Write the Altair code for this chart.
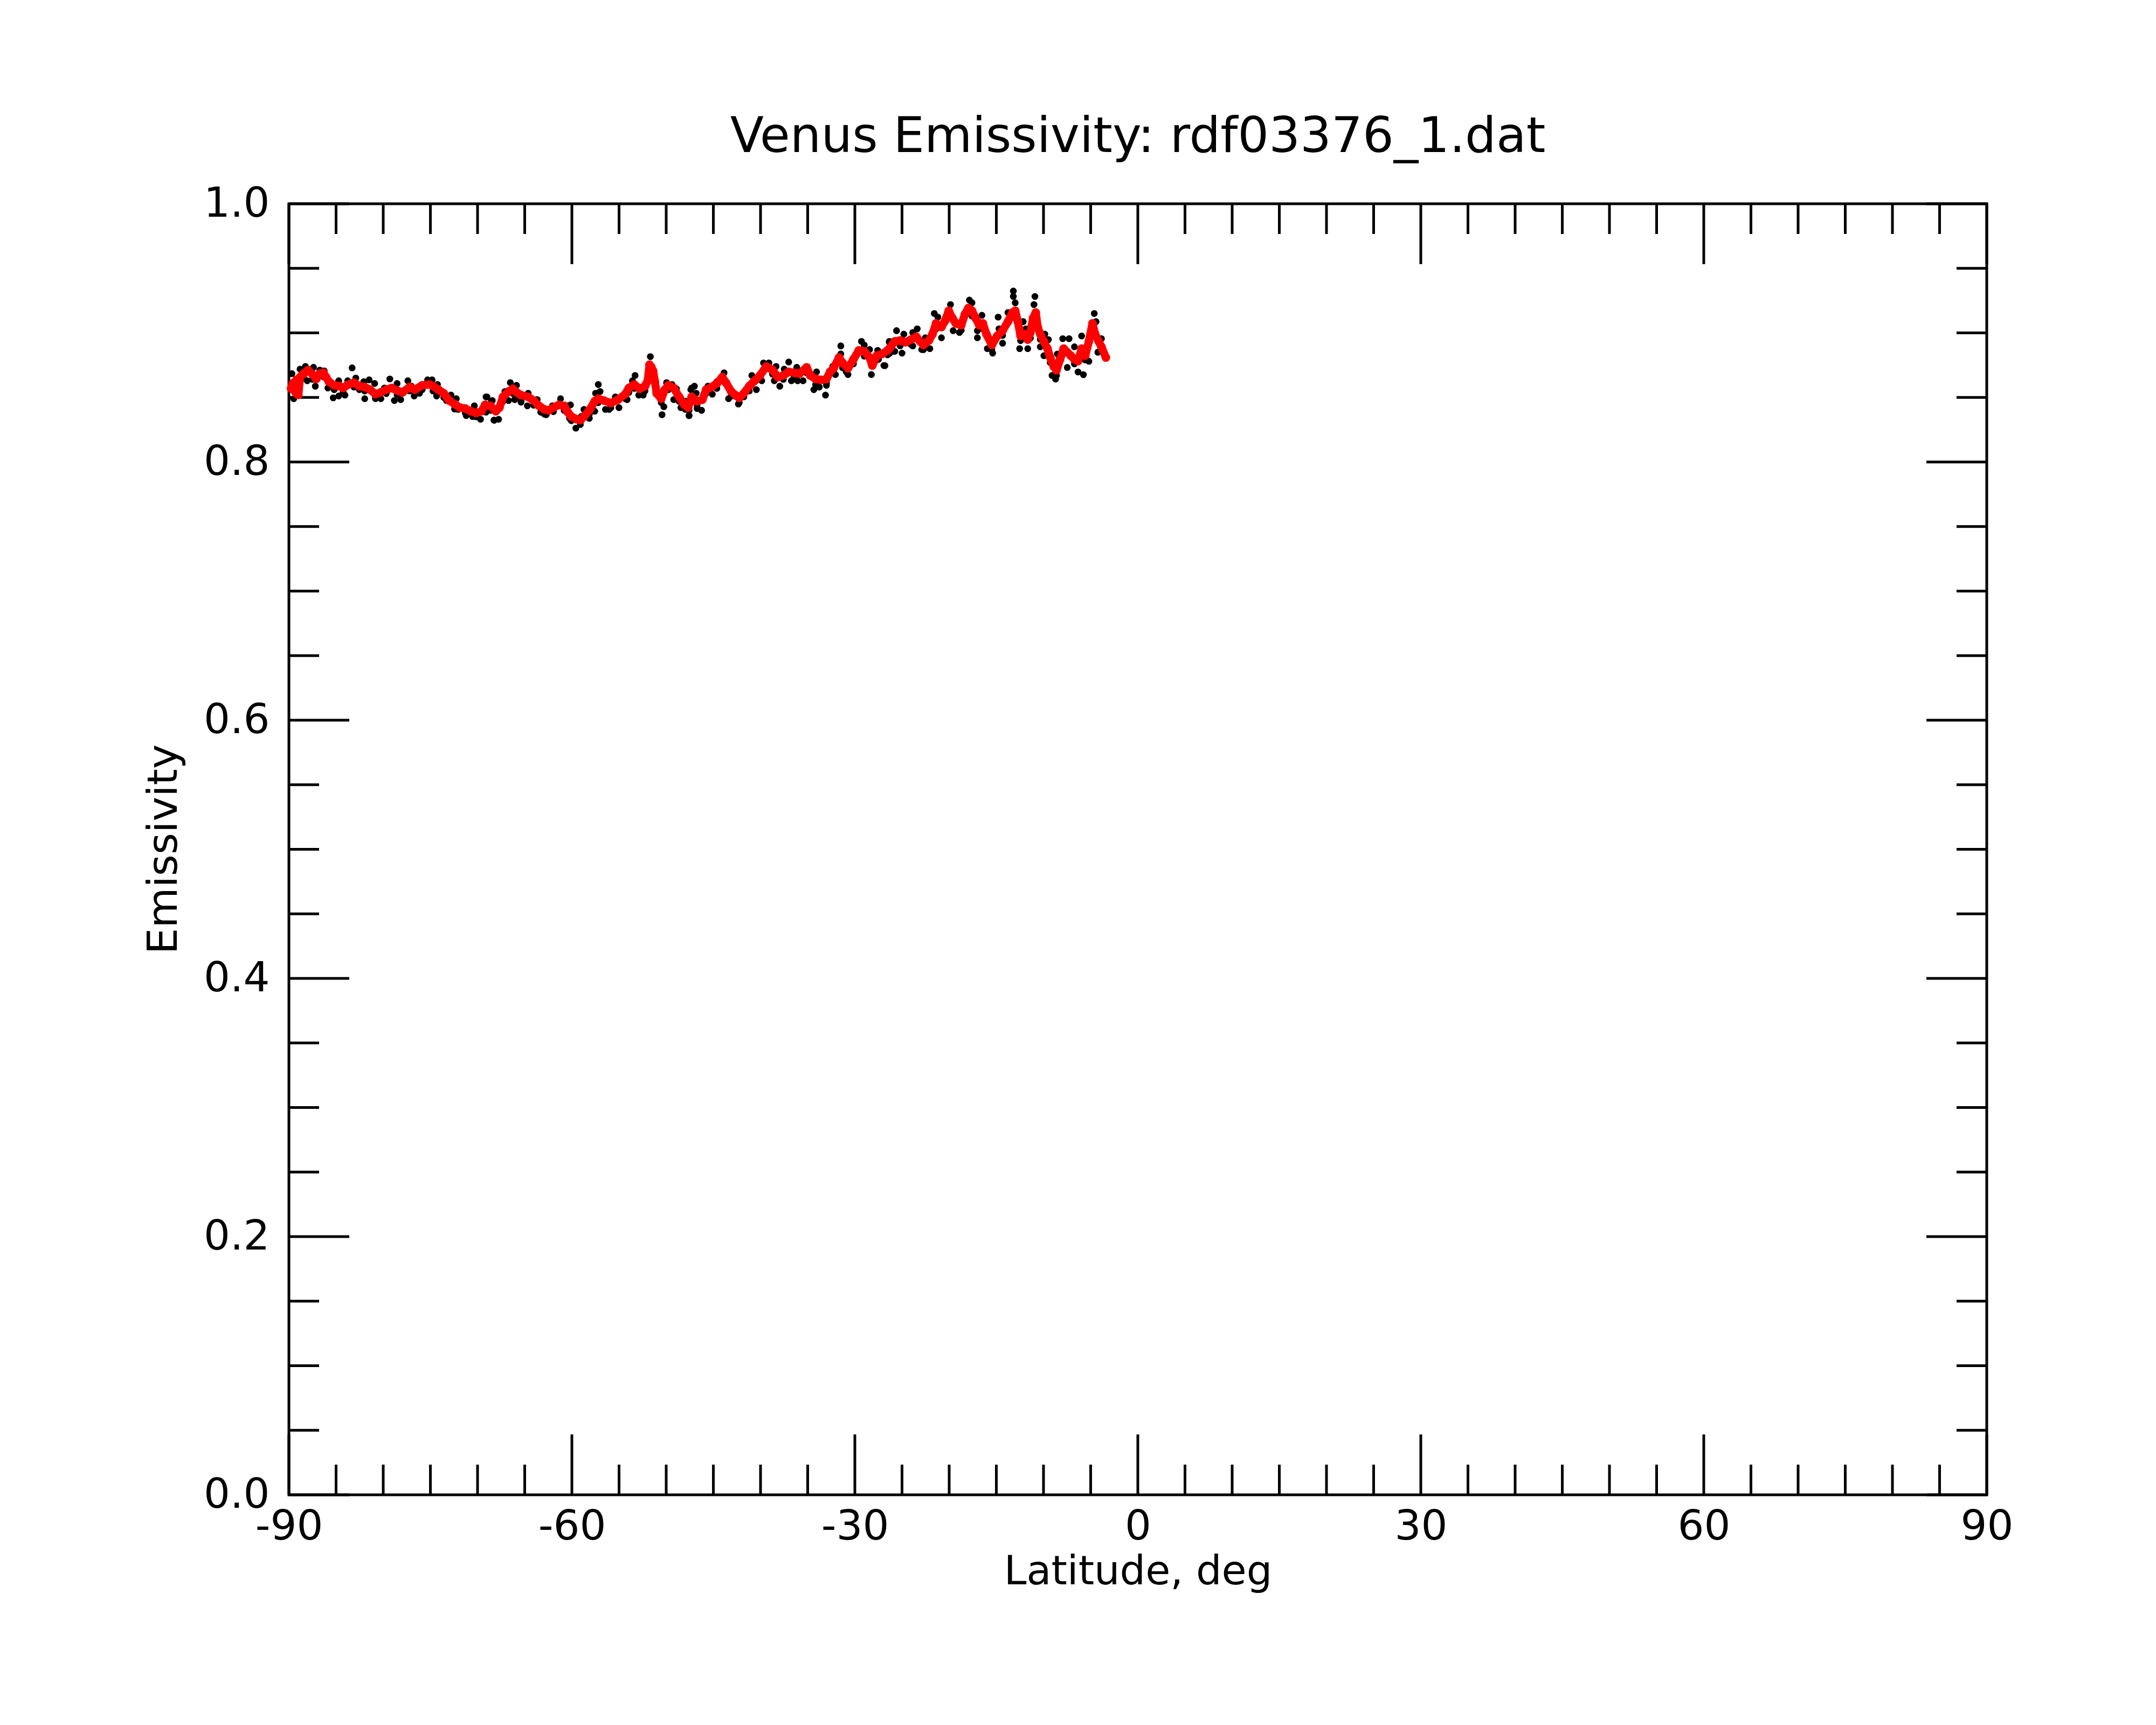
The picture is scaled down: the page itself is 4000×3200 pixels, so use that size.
import altair as alt
import pandas as pd

# ---------------- data ----------------
red_lat = [-89.77, -89.58, -89.40, -89.20, -89.00, -89.20, -88.82, -88.44, -87.96, -87.49,
           -87.10, -86.72, -86.34, -86.06, -85.77, -85.20, -84.63, -84.25, -83.68, -83.10,
           -82.53, -81.96, -81.39, -80.82, -80.25, -79.68, -79.10, -78.53, -77.96, -77.20,
           -76.63, -75.87, -75.10, -74.72, -74.15, -73.58, -73.01, -72.44, -71.87, -71.30,
           -70.72, -70.15, -69.58, -69.20, -68.63, -68.06, -67.68, -67.30, -66.72, -66.25,
           -65.87, -65.39, -64.63, -64.06, -63.49, -62.91, -62.44, -61.96, -61.39, -60.82,
           -60.44, -60.06, -59.49, -59.10, -58.72, -58.15, -57.58, -57.20, -56.63, -55.87,
           -55.10, -54.34, -53.96, -53.39, -52.82, -52.25, -51.96, -51.77, -51.58, -51.39,
           -51.20, -51.01, -50.53, -50.15, -49.77, -49.20, -48.63, -48.06, -47.68, -47.30,
           -46.73, -46.16, -45.77, -45.20, -44.63, -44.06, -43.68, -43.11, -42.54, -42.25,
           -41.77, -41.20, -40.63, -40.06, -39.39, -38.73, -38.16, -37.58, -37.01, -36.44,
           -35.87, -35.11, -34.73, -34.16, -33.58, -33.01, -32.63, -32.25, -31.68, -31.30,
           -30.73, -30.15, -29.58, -29.01, -28.44, -28.15, -27.68, -27.11, -26.53, -26.34,
           -25.77, -25.20, -24.62, -24.05, -23.48, -23.10, -22.72, -22.15, -21.77, -21.39,
           -20.82, -20.43, -20.05, -19.67, -19.29, -18.72, -18.34, -17.96, -17.58, -17.20,
           -16.81, -16.43, -16.05, -15.48, -14.91, -14.34, -13.77, -13.29, -13.00, -12.72,
           -12.43, -12.05, -11.67, -11.39, -11.10, -10.82, -10.62, -10.34, -9.96, -9.58,
           -9.29, -8.91, -8.62, -8.24, -7.86, -7.48, -7.10, -6.72, -6.34, -5.96,
           -5.58, -5.19, -4.81, -4.53, -4.15, -3.86, -3.39]
red_val = [0.857, 0.861, 0.855, 0.853, 0.852, 0.8635, 0.8657, 0.8684, 0.8712, 0.8677,
           0.8643, 0.8684, 0.8691, 0.8657, 0.8622, 0.8594, 0.8587, 0.8573, 0.8600, 0.8615,
           0.8587, 0.8580, 0.8560, 0.8525, 0.8539, 0.8560, 0.8573, 0.8553, 0.8539, 0.8580,
           0.8560, 0.8594, 0.8600, 0.8587, 0.8560, 0.8532, 0.8476, 0.8449, 0.8421, 0.8414,
           0.8393, 0.8380, 0.8393, 0.8442, 0.8435, 0.8393, 0.8421, 0.8504, 0.8546, 0.8567,
           0.8539, 0.8518, 0.8504, 0.8476, 0.8435, 0.8407, 0.8400, 0.8421, 0.8442, 0.8435,
           0.8386, 0.8352, 0.8331, 0.8324, 0.8352, 0.8400, 0.8470, 0.8490, 0.8476, 0.8456,
           0.8483, 0.8525, 0.8573, 0.8600, 0.8567, 0.8587, 0.8629, 0.8753, 0.8735, 0.8705,
           0.8622, 0.8532, 0.8490, 0.8560, 0.8594, 0.8573, 0.8504, 0.8442, 0.8421, 0.8504,
           0.8470, 0.8483, 0.8560, 0.8580, 0.8608, 0.8657, 0.8615, 0.8546, 0.8511, 0.8497,
           0.8532, 0.8587, 0.8629, 0.8670, 0.8740, 0.8712, 0.8657, 0.8670, 0.8698, 0.8691,
           0.8684, 0.8733, 0.8670, 0.8643, 0.8636, 0.8643, 0.8698, 0.8726, 0.8809, 0.8767,
           0.8726, 0.8795, 0.8864, 0.8857, 0.8809, 0.8747, 0.8823, 0.8837, 0.8864, 0.8878,
           0.8934, 0.8941, 0.8927, 0.8948, 0.8969, 0.8934, 0.8906, 0.8941, 0.8990, 0.9073,
           0.9045, 0.9094, 0.9171, 0.9115, 0.9073, 0.9059, 0.9143, 0.9192, 0.9171, 0.9115,
           0.9059, 0.9073, 0.8990, 0.8906, 0.8976, 0.9017, 0.9087, 0.9157, 0.9171, 0.9087,
           0.8976, 0.8990, 0.8948, 0.9003, 0.9115, 0.9157, 0.9045, 0.8990, 0.8934, 0.8878,
           0.8809, 0.8739, 0.8711, 0.8795, 0.8878, 0.8850, 0.8823, 0.8795, 0.8781, 0.8878,
           0.8823, 0.8934, 0.9073, 0.8990, 0.8934, 0.8892, 0.8809]

black_lat = [-89.68, -89.49, -88.82, -88.25, -88.06, -87.39, -87.20, -86.72, -86.25, -85.87,
             -85.30, -84.72, -84.72, -84.06, -83.77, -83.30, -82.91, -82.53, -81.96, -82.06,
             -81.49, -80.91, -80.82, -80.25, -79.87, -79.30, -78.82, -78.53, -78.15, -77.39,
             -76.72, -77.01, -76.15, -75.30, -74.82, -74.25, -74.34, -73.77, -73.30, -72.82,
             -72.25, -72.06, -71.20, -70.53, -70.34, -69.68, -69.10, -68.44, -68.25,
             -69.01, -69.10, -68.53, -68.25, -67.77, -67.39, -67.10, -66.72, -66.53, -65.87,
             -66.06, -65.39, -64.72, -64.63, -63.68, -63.30, -62.72, -62.06, -61.20, -60.53,
             -60.15, -60.25, -59.58, -59.01, -58.72, -58.15, -57.58, -57.49, -57.20, -57.01,
             -56.44, -56.06, -55.39, -55.01, -54.15, -53.96, -53.58, -53.30, -52.91, -52.44,
             -51.68, -50.82, -50.44, -50.25, -49.96, -49.39, -49.20, -48.91, -48.44, -47.96,
             -47.58, -47.39, -47.01,
             -47.87, -47.58, -47.30, -46.82, -46.25, -46.73, -45.58, -45.11, -44.63, -43.87,
             -43.39, -42.92, -42.35, -41.77, -40.92, -40.44, -39.87, -39.68, -39.11, -38.35,
             -38.54, -37.96, -37.49, -37.01, -36.73, -36.06, -36.16, -35.49, -34.35, -34.06,
             -33.77, -33.11, -33.01, -32.35, -32.06, -31.49, -31.49, -30.92, -30.73, -30.16,
             -29.30, -29.01, -28.44, -28.25, -27.58, -27.49, -26.92, -26.35, -25.96,
             -26.81, -26.34, -25.77, -25.58, -25.00, -24.81, -23.86, -23.86, -23.39, -22.91,
             -22.53, -22.05, -21.58, -21.20, -20.82, -19.86, -19.58, -18.91, -18.34, -17.86,
             -17.58, -17.01, -16.53, -17.01, -15.96, -15.39, -14.81, -14.72, -14.34, -13.77,
             -13.20, -13.20, -13.00, -12.53, -12.15, -11.86, -11.67, -10.91, -11.01, -10.34,
             -9.86, -9.96, -9.48, -9.10, -8.72, -8.53, -7.96, -7.29, -7.48, -6.72,
             -6.34, -5.96, -5.77, -5.19, -4.62, -4.43, -4.24, -3.86,
             -89.58, -88.44, -87.49, -86.34, -85.20, -84.25, -83.10, -81.96, -80.82, -79.68,
             -78.53, -77.20, -75.87, -74.72, -73.58, -72.44, -71.30, -70.15, -69.20,
             -68.63, -67.30, -66.25, -65.39, -64.06, -62.91, -61.96, -60.82, -60.06, -59.10,
             -58.15, -57.20, -55.87, -54.34, -53.39, -52.25, -50.53, -49.77, -48.63, -47.58,
             -46.73, -45.77, -44.63, -43.11, -42.25, -41.20, -40.06, -38.73, -37.58, -36.44,
             -35.11, -34.16, -33.01, -32.25, -31.30, -30.15, -29.01, -27.68, -26.53,
             -26.34, -25.20, -24.05, -22.72, -21.39, -20.05, -18.72, -17.58, -16.43, -15.48,
             -14.34, -13.29, -12.43, -11.39, -10.34, -9.29, -8.62, -7.86, -6.72, -5.58,
             -4.81, -3.86]
black_val = [0.8684, 0.8490, 0.8719, 0.8740, 0.8629, 0.8733, 0.8587, 0.8712, 0.8705, 0.8573,
             0.8497, 0.8629, 0.8511, 0.8518, 0.8629, 0.8729, 0.8650, 0.8560, 0.8490, 0.8622,
             0.8636, 0.8608, 0.8490, 0.8490, 0.8573, 0.8643, 0.8476, 0.8608, 0.8483, 0.8629,
             0.8511, 0.8587, 0.8532, 0.8636, 0.8636, 0.8600, 0.8511, 0.8546, 0.8476, 0.8518,
             0.8490, 0.8407, 0.8359, 0.8352, 0.8435, 0.8331, 0.8504, 0.8476, 0.8324,
             0.8504, 0.8386, 0.8470, 0.8324, 0.8331, 0.8504, 0.8546, 0.8476, 0.8615, 0.8594,
             0.8483, 0.8463, 0.8435, 0.8532, 0.8483, 0.8386, 0.8366, 0.8435, 0.8490, 0.8435,
             0.8442, 0.8338, 0.8262, 0.8352, 0.8407, 0.8338, 0.8393, 0.8532, 0.8600, 0.8546,
             0.8407, 0.8407, 0.8504, 0.8421, 0.8483, 0.8539, 0.8629, 0.8670, 0.8518, 0.8518,
             0.8816, 0.8518, 0.8366, 0.8428, 0.8615, 0.8600, 0.8483, 0.8567, 0.8421, 0.8407,
             0.8359, 0.8560, 0.8587,
             0.8470, 0.8359, 0.8573, 0.8532, 0.8400, 0.8414, 0.8587, 0.8525, 0.8622, 0.8691,
             0.8490, 0.8539, 0.8449, 0.8504, 0.8670, 0.8560, 0.8629, 0.8767, 0.8767, 0.8740,
             0.8629, 0.8587, 0.8719, 0.8774, 0.8629, 0.8629, 0.8733, 0.8629, 0.8560, 0.8698,
             0.8580, 0.8518, 0.8594, 0.8740, 0.8677, 0.8899, 0.8837, 0.8698, 0.8677, 0.8781,
             0.8934, 0.8906, 0.8871, 0.8677, 0.8864, 0.8795, 0.8747, 0.8927, 0.8857,
             0.8746, 0.8934, 0.8857, 0.9017, 0.8843, 0.8990, 0.8899, 0.9003, 0.9031, 0.8871,
             0.8962, 0.8878, 0.9150, 0.9122, 0.8962, 0.9219, 0.9017, 0.9003, 0.9129, 0.9254,
             0.9233, 0.9017, 0.9136, 0.8962, 0.8878, 0.8843, 0.9122, 0.9031, 0.8920, 0.9157,
             0.9324, 0.9282, 0.9233, 0.8878, 0.9087, 0.9031, 0.8878, 0.9282, 0.9219, 0.8892,
             0.8990, 0.8823, 0.8948, 0.8670, 0.8642, 0.8836, 0.8955, 0.8955, 0.8732, 0.8892,
             0.8697, 0.8976, 0.8676, 0.8780, 0.9150, 0.9087, 0.8850, 0.8955,
             0.857, 0.865, 0.864, 0.866, 0.856, 0.854, 0.858, 0.855, 0.850, 0.853,
             0.852, 0.855, 0.856, 0.855, 0.850, 0.841, 0.838, 0.835, 0.840,
             0.840, 0.847, 0.853, 0.848, 0.844, 0.837, 0.839, 0.840, 0.832, 0.829,
             0.837, 0.846, 0.842, 0.849, 0.857, 0.855, 0.846, 0.856, 0.847, 0.840,
             0.844, 0.853, 0.857, 0.851, 0.846, 0.855, 0.864, 0.868, 0.864, 0.866,
             0.869, 0.860, 0.861, 0.869, 0.873, 0.876, 0.882, 0.879, 0.883,
             0.884, 0.890, 0.891, 0.887, 0.903, 0.913, 0.902, 0.913, 0.903, 0.887,
             0.898, 0.912, 0.894, 0.896, 0.895, 0.877, 0.867, 0.884, 0.876, 0.879,
             0.903, 0.886]

x_major = [-90, -60, -30, 0, 30, 60, 90]
x_minor = [-85, -80, -75, -70, -65, -55, -50, -45, -40, -35, -25, -20, -15, -10, -5,
           5, 10, 15, 20, 25, 35, 40, 45, 50, 55, 65, 70, 75, 80, 85]
y_major = [0.0, 0.2, 0.4, 0.6, 0.8, 1.0]
y_minor = [0.05, 0.1, 0.15, 0.25, 0.3, 0.35, 0.45, 0.5, 0.55, 0.65, 0.7, 0.75,
           0.85, 0.9, 0.95]

title_text = "Venus Emissivity: rdf03376_1.dat"
x_title = "Latitude, deg"
y_title = "Emissivity"

# ---------------- layout ----------------
W, H = 3150, 2395
FONT = "DejaVu Sans"
LW = 5
MAJ, MIN = 112, 56

xscale = alt.Scale(domain=[-90, 90], nice=False, zero=False)
yscale = alt.Scale(domain=[0, 1], nice=False, zero=False)

xaxis = alt.Axis(values=x_major, labelExpr="'' + datum.value", labelFont=FONT,
                 labelFontSize=77, labelColor="black", labelPadding=21,
                 labelFlush=False, labelOverlap=False, labelBound=False,
                 ticks=False, domain=False, grid=False,
                 title=x_title, titleFont=FONT, titleFontSize=75,
                 titleFontWeight="normal", titleColor="black",
                 titleX=1575, titleY=165, titleBaseline="alphabetic",
                 titleAlign="center")
yaxis = alt.Axis(values=y_major, format=".1f", labelFont=FONT, labelFontSize=77,
                 labelColor="black", labelPadding=36, labelFlush=False,
                 labelOverlap=False, labelBound=False,
                 ticks=False, domain=False, grid=False,
                 title=y_title, titleFont=FONT, titleFontSize=77,
                 titleFontWeight="normal", titleColor="black",
                 titleX=-209, titleY=1197, titleAngle=270,
                 titleBaseline="alphabetic", titleAlign="center")

black_df = pd.DataFrame({"lat": black_lat, "val": black_val})
red_df = pd.DataFrame({"lat": red_lat, "val": red_val})


def xrules(vals, y1, y2):
    return alt.Chart(pd.DataFrame({"lat": vals})).mark_rule(
        color="black", strokeWidth=LW).encode(
        x=alt.X("lat:Q", scale=xscale, axis=xaxis),
        y=alt.value(y1), y2=alt.value(y2))


def yrules(vals, x1, x2):
    return alt.Chart(pd.DataFrame({"val": vals})).mark_rule(
        color="black", strokeWidth=LW).encode(
        y=alt.Y("val:Q", scale=yscale, axis=yaxis),
        x=alt.value(x1), x2=alt.value(x2))


rules = [
    xrules(x_major, H, H - MAJ), xrules(x_minor, H, H - MIN),
    xrules(x_major, 0, MAJ), xrules(x_minor, 0, MIN),
    yrules(y_major, 0, MAJ), yrules(y_minor, 0, MIN),
    yrules(y_major, W, W - MAJ), yrules(y_minor, W, W - MIN),
]

black = alt.Chart(black_df).mark_circle(color="black", size=160, opacity=1).encode(
    x=alt.X("lat:Q", scale=xscale, axis=xaxis),
    y=alt.Y("val:Q", scale=yscale, axis=yaxis))

red_line = alt.Chart(red_df).mark_line(color="#ff0000", strokeWidth=15,
                                       strokeJoin="round", strokeCap="round").encode(
    x=alt.X("lat:Q", scale=xscale, axis=xaxis, sort=None),
    y=alt.Y("val:Q", scale=yscale, axis=yaxis))

red = alt.Chart(red_df).mark_circle(color="#ff0000", size=260, opacity=1).encode(
    x=alt.X("lat:Q", scale=xscale, axis=xaxis),
    y=alt.Y("val:Q", scale=yscale, axis=yaxis))

chart = alt.layer(black, *rules, red_line, red).properties(
    width=W, height=H,
    background="white",
    title=alt.TitleParams(text=title_text, font=FONT, fontSize=91,
                          fontWeight="normal", color="black", anchor="middle",
                          frame="group", baseline="alphabetic", offset=4, dy=38),
    autosize=alt.AutoSizeParams(type="none"),
    padding={"left": 528, "top": 370, "right": 306, "bottom": 419},
).configure_view(stroke="black", strokeWidth=LW)

chart.save("out.html", embed_options={"renderer": "svg", "actions": False})
